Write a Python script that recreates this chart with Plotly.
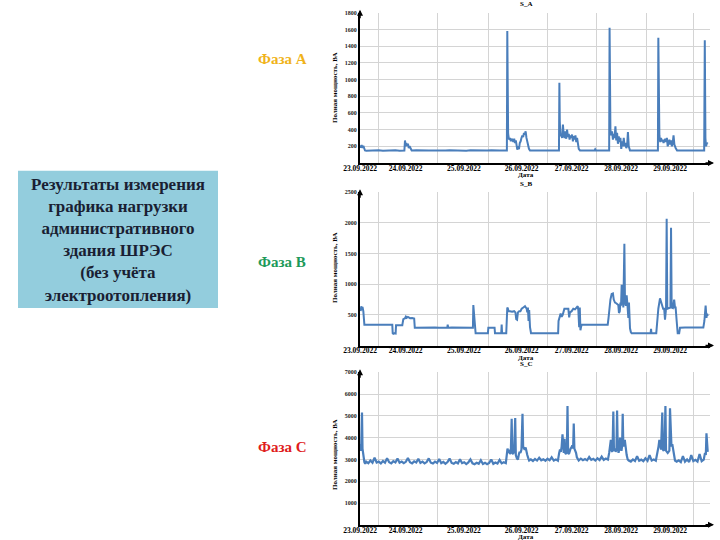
import plotly.graph_objects as go

# ---------------- data (hours since 23.09.2022 00:00, apparent power VA) ----------------
phase_a_readings = [
    (0, 210), (0.4, 185), (0.8, 215), (1.2, 180), (1.6, 205), (2.0, 165), (2.4, 150), (3.0, 147),
    (5, 151), (7, 148), (9, 152), (11, 147), (13, 150), (15, 149), (17, 152), (19, 148), (21.3, 150),
    (21.6, 270), (21.9, 200), (22.2, 240), (22.6, 205), (23.0, 230), (23.4, 180), (23.8, 200), (24.3, 160), (24.8, 150),
    (27, 152), (29, 148), (31, 151), (33, 149), (35, 150), (37, 153), (39, 148), (41, 150), (43, 152), (45, 149),
    (47, 151), (49, 150), (51, 148), (53, 152), (55, 150), (57, 149), (59, 151), (61, 150), (63, 153), (65, 149),
    (67, 151), (69, 150), (70.5, 150),
    (70.7, 1580), (70.9, 600), (71.1, 350), (71.4, 300), (71.7, 280), (72.0, 300), (72.4, 260), (72.8, 290),
    (73.2, 270), (73.6, 255), (74.0, 290), (74.4, 240), (74.8, 270), (75.1, 190), (75.5, 160), (75.9, 200),
    (76.3, 165), (76.7, 240), (77.1, 260), (77.5, 300), (77.9, 330), (78.3, 310), (78.7, 360), (79.1, 340),
    (79.5, 380), (79.9, 300), (80.3, 250), (80.7, 200), (81.1, 170), (81.6, 150),
    (83, 151), (85, 148), (87, 151), (89, 150), (91, 149), (93, 151), (95.5, 150),
    (95.7, 960), (95.9, 500), (96.2, 320), (96.6, 350), (97.0, 300), (97.4, 460), (97.8, 330), (98.2, 300),
    (98.6, 380), (99.0, 290), (99.4, 400), (99.8, 310), (100.2, 350), (100.6, 280), (101.0, 330), (101.4, 300),
    (101.8, 340), (102.2, 260), (102.6, 320), (103.0, 280), (103.4, 330), (103.8, 250), (104.2, 300),
    (104.6, 220), (105.0, 170), (105.6, 150),
    (107, 151), (109, 148), (111, 151), (112.6, 150), (112.9, 165), (113.3, 150), (115, 149), (117, 151), (119.6, 150),
    (119.8, 1620), (120.0, 700), (120.2, 400), (120.6, 330), (121.0, 380), (121.4, 280), (121.8, 350),
    (122.2, 300), (122.6, 440), (123.0, 270), (123.4, 360), (123.8, 230), (124.2, 320), (124.6, 250),
    (125.0, 300), (125.4, 170), (125.8, 260), (126.2, 200), (126.6, 300), (127.0, 200), (127.4, 240),
    (127.8, 180), (128.2, 200), (128.6, 370), (129.0, 200), (129.6, 150),
    (131, 150), (133, 148), (135, 151), (137, 150), (139, 149), (141, 151), (143.0, 150),
    (143.2, 1500), (143.4, 600), (143.7, 330), (144.1, 250), (144.5, 300), (144.9, 260), (145.3, 280),
    (145.7, 240), (146.1, 270), (146.5, 290), (146.9, 250), (147.3, 300), (147.7, 200), (148.1, 260),
    (148.5, 280), (148.9, 220), (149.3, 270), (149.7, 200), (150.1, 240), (150.5, 330), (150.9, 220),
    (151.5, 180), (152.2, 150),
    (154, 150), (156, 148), (158, 151), (160, 150), (162, 149), (165.2, 150),
    (165.5, 1470), (165.8, 300), (166.1, 200), (166.5, 240), (166.9, 230),
]

phase_b_readings = [
    (0.3, 560), (0.6, 640), (0.9, 580), (1.2, 630), (1.6, 560), (2.0, 420), (2.1, 340),
    (4, 338), (6, 340), (8, 338), (10, 340), (12, 338), (14, 340), (15.5, 338),
    (15.7, 200), (16.0, 190), (16.5, 200), (17.1, 195), (17.3, 330), (18.5, 328), (20.3, 330),
    (20.8, 430), (21.5, 440), (22.0, 470), (22.4, 450), (23.0, 465), (24.0, 445), (25.0, 450), (26.0, 440), (26.3, 290),
    (28, 292), (30, 290), (32, 292), (34, 290), (36, 292), (38, 290), (40, 292), (41.9, 290), (42.1, 340), (42.3, 290),
    (44, 292), (46, 290), (48, 292), (50, 290), (52, 292), (54.2, 290),
    (54.4, 660), (54.7, 520), (54.9, 500), (55.2, 300), (55.5, 200),
    (57, 198), (59, 200), (61.4, 198), (61.6, 290), (63, 292), (64.6, 290), (64.8, 200), (66, 198), (67.8, 200),
    (68.0, 340), (68.2, 200), (70.2, 200),
    (70.4, 450), (70.7, 620), (71.0, 600), (71.3, 560), (72, 560), (73, 550), (74, 560), (74.6, 540), (75.0, 430),
    (75.4, 420), (75.8, 540), (76.4, 560), (77.0, 560), (77.6, 600), (78.4, 620), (79.2, 640), (79.6, 620),
    (80.0, 600), (80.3, 540), (80.6, 620), (80.9, 400), (81.2, 580), (81.6, 300), (82.1, 200),
    (84, 198), (86, 200), (88, 198), (90, 200), (92, 198), (94, 200), (95.1, 200),
    (95.3, 400), (95.7, 450), (96.3, 520), (96.8, 470), (97.3, 500), (98.1, 600), (99, 600), (100, 600),
    (100.4, 460), (100.8, 540), (101.6, 560), (102.4, 600), (103.2, 590), (104.0, 620), (104.5, 640),
    (104.8, 580), (105.2, 300), (105.5, 620), (105.8, 250), (106.1, 300), (106.4, 340),
    (108, 340), (110, 338), (112, 340), (114, 338), (116, 340), (118.9, 340),
    (119.3, 450), (119.7, 650), (120.2, 750), (120.8, 840), (121.4, 850), (121.8, 750), (122.4, 700),
    (123.0, 690), (123.6, 660), (124.0, 660), (124.3, 530), (124.7, 560), (125.0, 700), (125.3, 650),
    (125.6, 990), (126.0, 800), (126.4, 620), (126.9, 1660), (127.2, 700), (127.6, 650), (128.0, 820),
    (128.3, 700), (128.5, 600), (128.8, 450), (129.1, 700), (129.3, 350), (129.6, 280), (130.0, 220), (130.4, 200),
    (132, 198), (134, 200), (136, 198), (138, 200), (139.5, 198), (139.7, 270), (139.9, 200), (142.2, 200),
    (142.6, 400), (143.2, 600), (144.0, 770), (144.5, 700), (145.0, 620), (145.5, 600), (146.0, 600),
    (146.4, 420), (146.9, 600), (147.2, 2070), (147.5, 600), (148.0, 610), (148.6, 620), (149.0, 620),
    (149.3, 1920), (149.6, 620), (150.2, 610), (150.8, 750), (151.2, 620), (151.5, 620), (152.0, 400),
    (152.5, 200), (153.2, 200), (153.6, 290),
    (156, 292), (158, 290), (160, 292), (162, 290), (164.8, 292),
    (165.3, 400), (165.9, 650), (166.3, 450), (166.6, 520), (166.9, 480),
]

phase_c_readings = [
    (0, 3500), (0.3, 3400), (0.6, 3700), (0.96, 5150), (1.2, 3500), (1.5, 3300), (1.8, 3000), (2.1, 2880), (2.5, 2800),
    (3, 2900), (4, 2830), (5, 2950), (6, 2850), (7, 3080), (8, 2860), (9, 2900), (10, 2820), (11, 2930),
    (12, 2850), (13, 3060), (14, 2870), (15, 2820), (16, 2920), (17, 2860), (18, 3040), (19, 2850), (20, 2900),
    (21, 2830), (22, 2890), (23, 3070), (24, 2870), (25, 2820), (26, 2910), (27, 2860), (28, 3030), (29, 2840),
    (30, 2900), (31, 2820), (32, 2880), (33, 3050), (34, 2850), (35, 2810), (36, 2900), (37, 2840), (38, 3020),
    (39, 2830), (40, 2890), (41, 2800), (42, 2880), (43, 3040), (44, 2840), (45, 2800), (46, 2880), (47, 2820),
    (48, 3010), (49, 2830), (50, 2870), (51, 2790), (52, 2860), (53, 3000), (54, 2820), (55, 2780), (56, 2850),
    (57, 2800), (58, 2960), (59, 2790), (60, 2850), (61, 2780), (62, 2840), (63, 3000), (64, 2800), (65, 2860),
    (66, 2810), (67, 2980), (68, 2820), (69, 2870), (70, 2830),
    (70.4, 3300), (70.8, 3500), (71.2, 3300), (71.6, 3450), (72.0, 3250), (72.4, 3350), (72.8, 4870), (73.1, 3300),
    (73.5, 3250), (74.0, 3400), (74.5, 4900), (74.8, 3200), (75.3, 3050), (75.8, 3000), (76.2, 3200), (76.6, 3350),
    (77.0, 3300), (77.5, 3450), (78.0, 5100), (78.3, 3600), (78.7, 3500), (79.1, 3450), (79.5, 3550), (79.9, 3300),
    (80.3, 3200), (80.8, 3050), (81.2, 2950),
    (82, 3000), (83, 2930), (84, 3020), (85, 2950), (86, 3080), (87, 2960), (88, 3010), (89, 2940), (90, 3030),
    (91, 2960), (92, 3100), (93, 2950), (94, 3000), (95, 2940),
    (95.6, 3300), (96.0, 3450), (96.4, 3350), (96.8, 3600), (97.2, 4150), (97.5, 3400), (97.8, 3300), (98.2, 3950),
    (98.5, 3300), (98.9, 3250), (99.3, 3400), (99.6, 5450), (99.9, 3300), (100.3, 3250), (100.7, 3400),
    (101.1, 3500), (101.5, 3550), (101.9, 3650), (102.3, 3500), (102.6, 4650), (102.9, 3500), (103.3, 3400),
    (103.7, 3300), (104.1, 3100), (104.6, 3000),
    (105, 2950), (106, 3040), (107, 2970), (108, 3020), (109, 2960), (110, 3110), (111, 2980), (112, 3030),
    (113, 2950), (114, 3050), (115, 2970), (116, 3130), (117, 2980), (118, 3040), (119, 2990),
    (119.6, 3300), (120.0, 3700), (120.4, 3900), (120.8, 3400), (121.2, 3350), (121.6, 5200), (121.9, 3400),
    (122.3, 3500), (122.7, 3350), (123.1, 3450), (123.4, 5250), (123.7, 3600), (124.1, 3300), (124.5, 3500),
    (124.8, 4000), (125.1, 3500), (125.5, 3400), (125.8, 3600), (126.1, 5100), (126.4, 3600), (126.8, 3700),
    (127.1, 3900), (127.5, 3500), (128.0, 3200), (128.5, 3000),
    (129, 2950), (130, 2900), (131, 3000), (132, 2930), (133, 3150), (134, 2940), (135, 2990), (136, 2920),
    (137, 3050), (138, 2940), (139, 3200), (140, 2950), (141, 3000), (142, 2940),
    (142.9, 3300), (143.3, 3600), (143.7, 3900), (144.1, 3500), (144.5, 3450), (145.1, 5150), (145.4, 3450),
    (145.8, 3400), (146.2, 3500), (146.6, 5450), (146.9, 3400), (147.3, 3350), (147.7, 3300), (148.1, 3350),
    (148.5, 3400), (148.8, 5350), (149.1, 3800), (149.5, 3600), (149.9, 3700), (150.3, 3400), (150.7, 3100),
    (151.2, 2950),
    (152, 2900), (153, 2960), (154, 2880), (155, 3150), (156, 2900), (157, 3000), (158, 2880), (159, 3200),
    (160, 2920), (161, 2980), (162, 2900), (163, 3250), (164, 2920), (165, 2990),
    (165.6, 3300), (166.0, 3200), (166.3, 4200), (166.6, 3400), (166.9, 3350),
]

date_labels = ["23.09.2022", "24.09.2022", "25.09.2022", "26.09.2022", "27.09.2022", "28.09.2022", "29.09.2022"]
date_label_hours = [0, 21.9, 49.9, 77.6, 101.6, 125.3, 148.8]
grid_hours = [8.8, 37.3, 61.6, 89.9, 113.6, 137.3, 160.0]
a_ticks = [200, 400, 600, 800, 1000, 1200, 1400, 1600, 1800]
b_ticks = [500, 1000, 1500, 2000, 2500]
c_ticks = [1000, 2000, 3000, 4000, 5000, 6000, 7000]

panel_titles = ["S_A", "S_B", "S_C"]
phase_names = ["Фаза А", "Фаза В", "Фаза С"]
y_title = "Полная мощность, ВА"
x_title = "Дата"
box_lines = ["Результаты измерения", "графика нагрузки", "административного",
             "здания ШРЭС", "(без учёта", "электроотопления)"]

# ---------------- layout helpers ----------------
W, H = 720, 540
def px(x):
    return x / W
def py(y):
    return 1 - y / H

SERIF = "Liberation Serif"
LINE_COLOR = "#4a7ebb"
GRID = "#d4d4d4"

panels = [
    dict(data=phase_a_readings, ymax=1800, ticks=a_ticks, top=12.7, bottom=163.0,
         phase_color="#f0b31a", phase_y=59, ytitle_y=88, lw=2.0),
    dict(data=phase_b_readings, ymax=2500, ticks=b_ticks, top=192.3, bottom=345.5,
         phase_color="#1d9a5a", phase_y=262, ytitle_y=268, lw=2.0),
    dict(data=phase_c_readings, ymax=7000, ticks=c_ticks, top=372.3, bottom=524.8,
         phase_color="#e01c1c", phase_y=447, ytitle_y=455, lw=2.2),
]

fig = go.Figure()
annotations = []
X0, X1 = 360, 710

def label(x, y, text, size, color="black", angle=0):
    return dict(x=px(x), y=py(y), xref="paper", yref="paper", text=text, showarrow=False,
                xanchor="center", yanchor="middle", textangle=angle,
                font=dict(family=SERIF, size=size, color=color, weight="bold"))

for i, p in enumerate(panels):
    n = "" if i == 0 else str(i + 1)
    hours = [r[0] for r in p["data"]]
    va = [r[1] for r in p["data"]]
    fig.add_trace(go.Scatter(x=hours, y=va, mode="lines", xaxis="x" + n, yaxis="y" + n,
                             line=dict(color=LINE_COLOR, width=p["lw"]), showlegend=False,
                             hoverinfo="skip"))
    fig.layout["xaxis" + n] = dict(
        domain=[px(X0), px(X1)], range=[0, 168], anchor="y" + n, automargin=False,
        tickmode="array", tickvals=date_label_hours, ticktext=date_labels, ticklabelstandoff=-3,
        showgrid=False, zeroline=False, showline=True, linecolor="black", linewidth=1.5,
        ticks="", tickfont=dict(family=SERIF, size=7.5, color="black", weight="bold"),
        minor=dict(tickmode="array", tickvals=grid_hours, showgrid=True, gridcolor=GRID, gridwidth=1, ticks=""),
        fixedrange=True,
    )
    fig.layout["yaxis" + n] = dict(
        domain=[py(p["bottom"]), py(p["top"])], range=[0, p["ymax"]], anchor="x" + n, automargin=False,
        tickmode="array", tickvals=p["ticks"], showgrid=True, gridcolor=GRID, gridwidth=1,
        zeroline=False, showline=True, linecolor="black", linewidth=2, ticks="",
        tickfont=dict(family=SERIF, size=6, color="#222222", weight="bold"), fixedrange=True,
    )
    # axis arrows
    annotations.append(dict(x=px(X1 + 4), y=py(p["bottom"]), xref="paper", yref="paper", text="",
                            showarrow=True, ax=-10, ay=0, arrowhead=2, arrowsize=0.8, arrowwidth=1.5,
                            arrowcolor="black"))
    annotations.append(dict(x=px(X0), y=py(p["top"] - 3), xref="paper", yref="paper", text="",
                            showarrow=True, ax=0, ay=10, arrowhead=2, arrowsize=0.8, arrowwidth=1.5,
                            arrowcolor="black"))
    # texts
    annotations.append(label(526, p["top"] - 8.5, panel_titles[i], 7))
    annotations.append(label(526, p["bottom"] + 12, x_title, 7))
    annotations.append(label(335, p["ytitle_y"], y_title, 7, angle=-90))
    annotations.append(label(282, p["phase_y"], phase_names[i], 15, color=p["phase_color"]))

annotations.append(label(118, 240, "<br>".join(box_lines), 17, color="#1a1f33"))

fig.update_layout(
    width=W, height=H, margin=dict(l=0, r=0, t=0, b=0, autoexpand=False),
    paper_bgcolor="white", plot_bgcolor="white",
    annotations=annotations,
    shapes=[dict(type="rect", xref="paper", yref="paper", x0=px(18), x1=px(218),
                 y0=py(308), y1=py(170.7), fillcolor="#93cddd", line=dict(width=0), layer="below")],
    showlegend=False,
)

fig.write_html("out.html", config={"displayModeBar": False},
               post_script="document.body.style.margin='0';document.body.style.padding='0';")
